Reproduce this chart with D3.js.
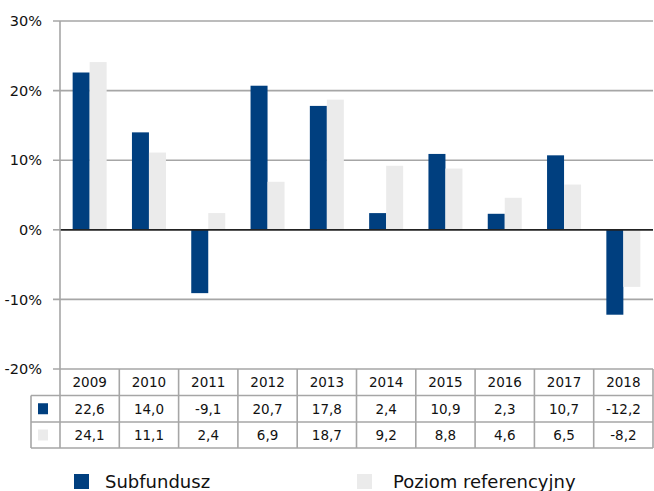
<!DOCTYPE html>
<html><head><meta charset="utf-8">
<script src="https://cdn.jsdelivr.net/npm/d3@7"></script>
<style>body{margin:0;background:#fff}svg{display:block}</style>
</head><body>
<script>
const years = ["2009","2010","2011","2012","2013","2014","2015","2016","2017","2018"];
const subfundusz = [22.6, 14.0, -9.1, 20.7, 17.8, 2.4, 10.9, 2.3, 10.7, -12.2];
const referencyjny = [24.1, 11.1, 2.4, 6.9, 18.7, 9.2, 8.8, 4.6, 6.5, -8.2];
const yTicks = [-20, -10, 0, 10, 20, 30];
const seriesNames = ["Subfundusz", "Poziom referencyjny"];
const colors = ["#003f7f", "#ebebeb"];

const W = 654, H = 491;
const font = "DejaVu Sans, Verdana, sans-serif";
const svg = d3.select("body").append("svg").attr("width", W).attr("height", H);

const x = d3.scaleBand().domain(years).range([60, 653]).padding(0);
const y = d3.scaleLinear().domain([-20, 30]).range([369, 21]);
const bw = 17;
const grid = "#a6a6a6";

// gridlines
svg.append("g").selectAll("line").data(yTicks.filter(d => d !== 0 && d !== -20)).join("line")
  .attr("x1", 53).attr("x2", 653).attr("y1", d => y(d)).attr("y2", d => y(d))
  .attr("stroke", grid).attr("stroke-width", 1.6);
svg.append("line").attr("x1", 53).attr("x2", 60).attr("y1", y(0)).attr("y2", y(0))
  .attr("stroke", grid).attr("stroke-width", 1.6);

// bars
const series = [subfundusz, referencyjny];
series.forEach((vals, si) => {
  svg.append("g").selectAll("rect").data(vals).join("rect")
    .attr("x", (d, i) => x(years[i]) + x.bandwidth() / 2 - bw + si * bw)
    .attr("width", bw)
    .attr("y", d => Math.min(y(d), y(0)))
    .attr("height", d => Math.abs(y(d) - y(0)))
    .attr("fill", colors[si]);
});

// zero line
svg.append("line").attr("x1", 60).attr("x2", 653).attr("y1", y(0)).attr("y2", y(0))
  .attr("stroke", "#222").attr("stroke-width", 1.8);

// y axis line
svg.append("line").attr("x1", 60).attr("x2", 60).attr("y1", y(30)).attr("y2", y(-20))
  .attr("stroke", grid).attr("stroke-width", 1.6);

// y tick labels
svg.append("g").selectAll("text").data(yTicks).join("text")
  .attr("x", 42).attr("y", d => y(d)).attr("dy", "0.36em")
  .attr("text-anchor", "end").attr("font-family", font).attr("font-size", 14.5)
  .attr("fill", "#111").text(d => d + "%");

// data table
const rowY = [369, 395.5, 422, 448];
const tb = svg.append("g").attr("stroke", grid).attr("stroke-width", 1.6).attr("fill", "none");
// horizontal lines
tb.append("line").attr("x1", 53).attr("x2", 653).attr("y1", rowY[0]).attr("y2", rowY[0]);
[1, 2, 3].forEach(r => tb.append("line").attr("x1", 31).attr("x2", 653).attr("y1", rowY[r]).attr("y2", rowY[r]));
// vertical lines
const vx = years.map(d => x(d)).concat([x.range()[1]]);
vx.forEach(v => tb.append("line").attr("x1", v).attr("x2", v).attr("y1", rowY[0]).attr("y2", rowY[3]));
tb.append("line").attr("x1", 31).attr("x2", 31).attr("y1", rowY[1]).attr("y2", rowY[3]);

const fmt = v => v.toFixed(1).replace(".", ",");
const rows = [years, subfundusz.map(fmt), referencyjny.map(fmt)];
rows.forEach((vals, r) => {
  svg.append("g").selectAll("text").data(vals).join("text")
    .attr("x", (d, i) => x(years[i]) + x.bandwidth() / 2)
    .attr("y", (rowY[r] + rowY[r + 1]) / 2).attr("dy", "0.36em")
    .attr("text-anchor", "middle").attr("font-family", font).attr("font-size", 13.5)
    .attr("fill", "#111").text(d => d);
});
// table keys
[0, 1].forEach(si => {
  const cy = (rowY[si + 1] + rowY[si + 2]) / 2;
  svg.append("rect").attr("x", 38).attr("y", cy - 5.5).attr("width", 10).attr("height", 11).attr("fill", colors[si]);
});

// legend
const legX = [74, 357];
const txtX = [105, 393];
seriesNames.forEach((n, i) => {
  svg.append("rect").attr("x", legX[i]).attr("y", 474).attr("width", 15).attr("height", 15).attr("fill", colors[i]);
  svg.append("text").attr("x", txtX[i]).attr("y", 488).attr("font-family", font).attr("font-size", 18)
    .attr("fill", "#111").text(n);
});
</script>
</body></html>
